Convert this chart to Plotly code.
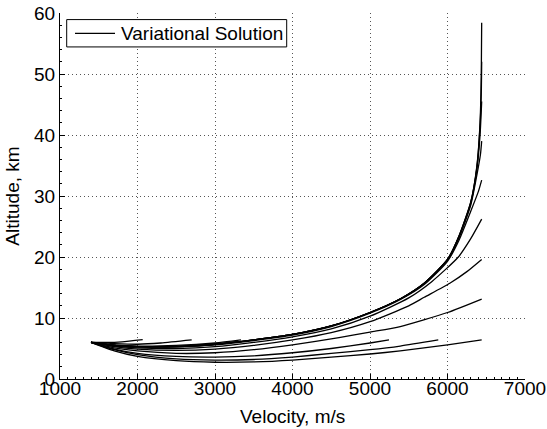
import plotly.graph_objects as go

# Family ending at final velocity ~6441 m/s (different final altitudes)
v_b9 = [1400, 1700, 2000, 2500, 3000, 3500, 4000, 4500, 5000, 5400, 5700, 6000, 6150, 6300, 6380, 6420, 6436, 6441]
h_b9 = [6.0, 5.5, 5.3, 5.3, 5.7, 6.4, 7.3, 8.7, 10.9, 13.2, 15.7, 19.6, 23.5, 29.0, 35.0, 42.0, 50.0, 58.4]
v_b8 = [1400, 1700, 2000, 2500, 3000, 3500, 4000, 4500, 5000, 5400, 5700, 6000, 6150, 6300, 6380, 6420, 6436, 6441]
h_b8 = [6.0, 5.5, 5.3, 5.3, 5.7, 6.4, 7.3, 8.7, 10.9, 13.2, 15.7, 19.6, 23.5, 29.0, 34.8, 41.5, 47.0, 52.0]
v_b7 = [1400, 1700, 2000, 2500, 3000, 3500, 4000, 4500, 5000, 5400, 5700, 6000, 6150, 6300, 6380, 6420, 6441]
h_b7 = [6.0, 5.5, 5.3, 5.3, 5.7, 6.4, 7.3, 8.7, 10.9, 13.2, 15.7, 19.6, 23.4, 28.8, 34.5, 40.0, 45.5]
v_b6 = [1400, 1700, 2000, 2500, 3000, 3500, 4000, 4500, 5000, 5400, 5700, 6000, 6150, 6300, 6380, 6425, 6441]
h_b6 = [6.0, 5.5, 5.3, 5.3, 5.7, 6.4, 7.3, 8.7, 10.9, 13.2, 15.7, 19.5, 23.2, 28.5, 33.5, 36.8, 39.0]
v_b5 = [1400, 1700, 2000, 2500, 3000, 3500, 4000, 4500, 5000, 5400, 5700, 6000, 6150, 6300, 6400, 6441]
h_b5 = [6.0, 5.5, 5.3, 5.3, 5.6, 6.3, 7.2, 8.6, 10.8, 13.1, 15.5, 19.3, 22.8, 27.5, 30.8, 32.6]
v_b4 = [1400, 1700, 2000, 2500, 3000, 3500, 4000, 4500, 5000, 5500, 5800, 6140, 6300, 6441]
h_b4 = [6.0, 5.4, 5.1, 5.0, 5.3, 6.0, 6.9, 8.2, 10.3, 13.3, 16.0, 20.0, 23.0, 26.2]
v_b3 = [1400, 1700, 2000, 2500, 3000, 3500, 4000, 4500, 5000, 5500, 5700, 6030, 6250, 6441]
h_b3 = [6.0, 5.3, 4.9, 4.7, 4.9, 5.5, 6.4, 7.6, 9.4, 12.0, 13.4, 15.7, 17.6, 19.6]
v_b2 = [1400, 1700, 2000, 2500, 3000, 3500, 4000, 4600, 5000, 5390, 6000, 6441]
h_b2 = [6.0, 5.1, 4.6, 4.2, 4.3, 4.8, 5.6, 6.8, 7.7, 8.6, 10.9, 13.1]

# Family ending at final altitude ~6.4 km (different final velocities)
v_a8 = [1400, 1700, 2000, 2500, 3000, 3500, 4000, 4500, 5000, 5390, 6000, 6441]
h_a8 = [6.0, 4.6, 3.7, 3.0, 2.75, 2.8, 3.1, 3.6, 4.1, 4.6, 5.6, 6.4]
v_a7 = [1400, 1700, 2000, 2500, 3000, 3500, 4000, 4500, 5000, 5390, 5881]
h_a7 = [6.0, 4.8, 4.0, 3.3, 3.1, 3.2, 3.6, 4.2, 4.8, 5.4, 6.4]
v_a6 = [1400, 1700, 2000, 2500, 3000, 3500, 4000, 4500, 5000, 5245]
h_a6 = [6.0, 4.9, 4.2, 3.7, 3.6, 3.8, 4.3, 5.0, 5.9, 6.4]
v_a3 = [1400, 1700, 2000, 2500, 3000, 3335]
h_a3 = [6.0, 5.6, 5.4, 5.5, 5.9, 6.4]
v_a2 = [1400, 1700, 2000, 2300, 2699]
h_a2 = [6.0, 5.8, 5.7, 5.9, 6.4]
v_a1 = [1400, 1600, 1800, 2067]
h_a1 = [6.05, 6.0, 6.1, 6.45]

curves = [
    (v_b9, h_b9), (v_b8, h_b8), (v_b7, h_b7), (v_b6, h_b6), (v_b5, h_b5),
    (v_b4, h_b4), (v_b3, h_b3), (v_b2, h_b2),
    (v_a8, h_a8), (v_a7, h_a7), (v_a6, h_a6), (v_a3, h_a3), (v_a2, h_a2), (v_a1, h_a1),
]

x_ticks = [1000, 2000, 3000, 4000, 5000, 6000, 7000]
y_ticks = [0, 10, 20, 30, 40, 50, 60]
legend_label = "Variational Solution"
x_title = "Velocity, m/s"
y_title = "Altitude, km"

FONT = "Liberation Sans, Arial, sans-serif"
FS = 19

fig = go.Figure()
for i, (v, h) in enumerate(curves):
    fig.add_trace(go.Scatter(
        x=v, y=h, mode="lines",
        line=dict(color="black", width=1.3, shape="spline", smoothing=0.6),
        name=legend_label, showlegend=False,
    ))

# Legend box (MATLAB style): frame, line sample and label, in paper coordinates
fig.add_shape(type="rect", xref="paper", yref="paper", x0=0.0144, x1=0.4875, y0=0.9073, y1=0.982,
              line=dict(color="black", width=1), fillcolor="white", layer="above")
fig.add_shape(type="line", xref="paper", yref="paper", x0=0.0323, x1=0.1183, y0=0.9446, y1=0.9446,
              line=dict(color="black", width=1.3), layer="above")
fig.add_annotation(text=legend_label, xref="paper", yref="paper", x=0.126, y=0.9446,
                   xanchor="left", yanchor="middle", showarrow=False,
                   font=dict(size=FS, family=FONT, color="black"))

# Axis titles
fig.add_annotation(text=x_title, xref="paper", yref="paper", x=0.5, y=-0.102,
                   xanchor="center", yanchor="middle", showarrow=False,
                   font=dict(size=FS, family=FONT, color="black"))
fig.add_annotation(text=y_title, xref="paper", yref="paper", x=-0.104, y=0.5,
                   xanchor="center", yanchor="middle", showarrow=False, textangle=-90,
                   font=dict(size=FS, family=FONT, color="black"))

grid_dash = "1px,3px"
fig.update_layout(
    width=547, height=429,
    margin=dict(l=60, r=22, t=13, b=50),
    paper_bgcolor="white", plot_bgcolor="white",
    font=dict(family=FONT, size=FS, color="black"),
    showlegend=False,
    xaxis=dict(
        range=[1000, 7000], tickvals=x_ticks, ticktext=[str(t) for t in x_ticks],
        ticks="inside", ticklen=5, tickcolor="black", showline=True, linecolor="black", linewidth=1,
        showgrid=True, gridcolor="#555", gridwidth=1, griddash=grid_dash,
        minor=dict(dtick=100, ticks="inside", ticklen=2, tickcolor="black", showgrid=False),
        zeroline=False, tickfont=dict(size=FS), automargin=False, ticklabelstandoff=-8,
        mirror=False,
    ),
    yaxis=dict(
        range=[0, 60], tickvals=y_ticks, ticktext=[str(t) for t in y_ticks],
        ticks="inside", ticklen=5, tickcolor="black", showline=True, linecolor="black", linewidth=1,
        showgrid=True, gridcolor="#555", gridwidth=1, griddash=grid_dash,
        minor=dict(dtick=2, ticks="inside", ticklen=2, tickcolor="black", showgrid=False),
        zeroline=False, tickfont=dict(size=FS), automargin=False,
        mirror=False,
    ),
)

fig.write_html("out.html")
